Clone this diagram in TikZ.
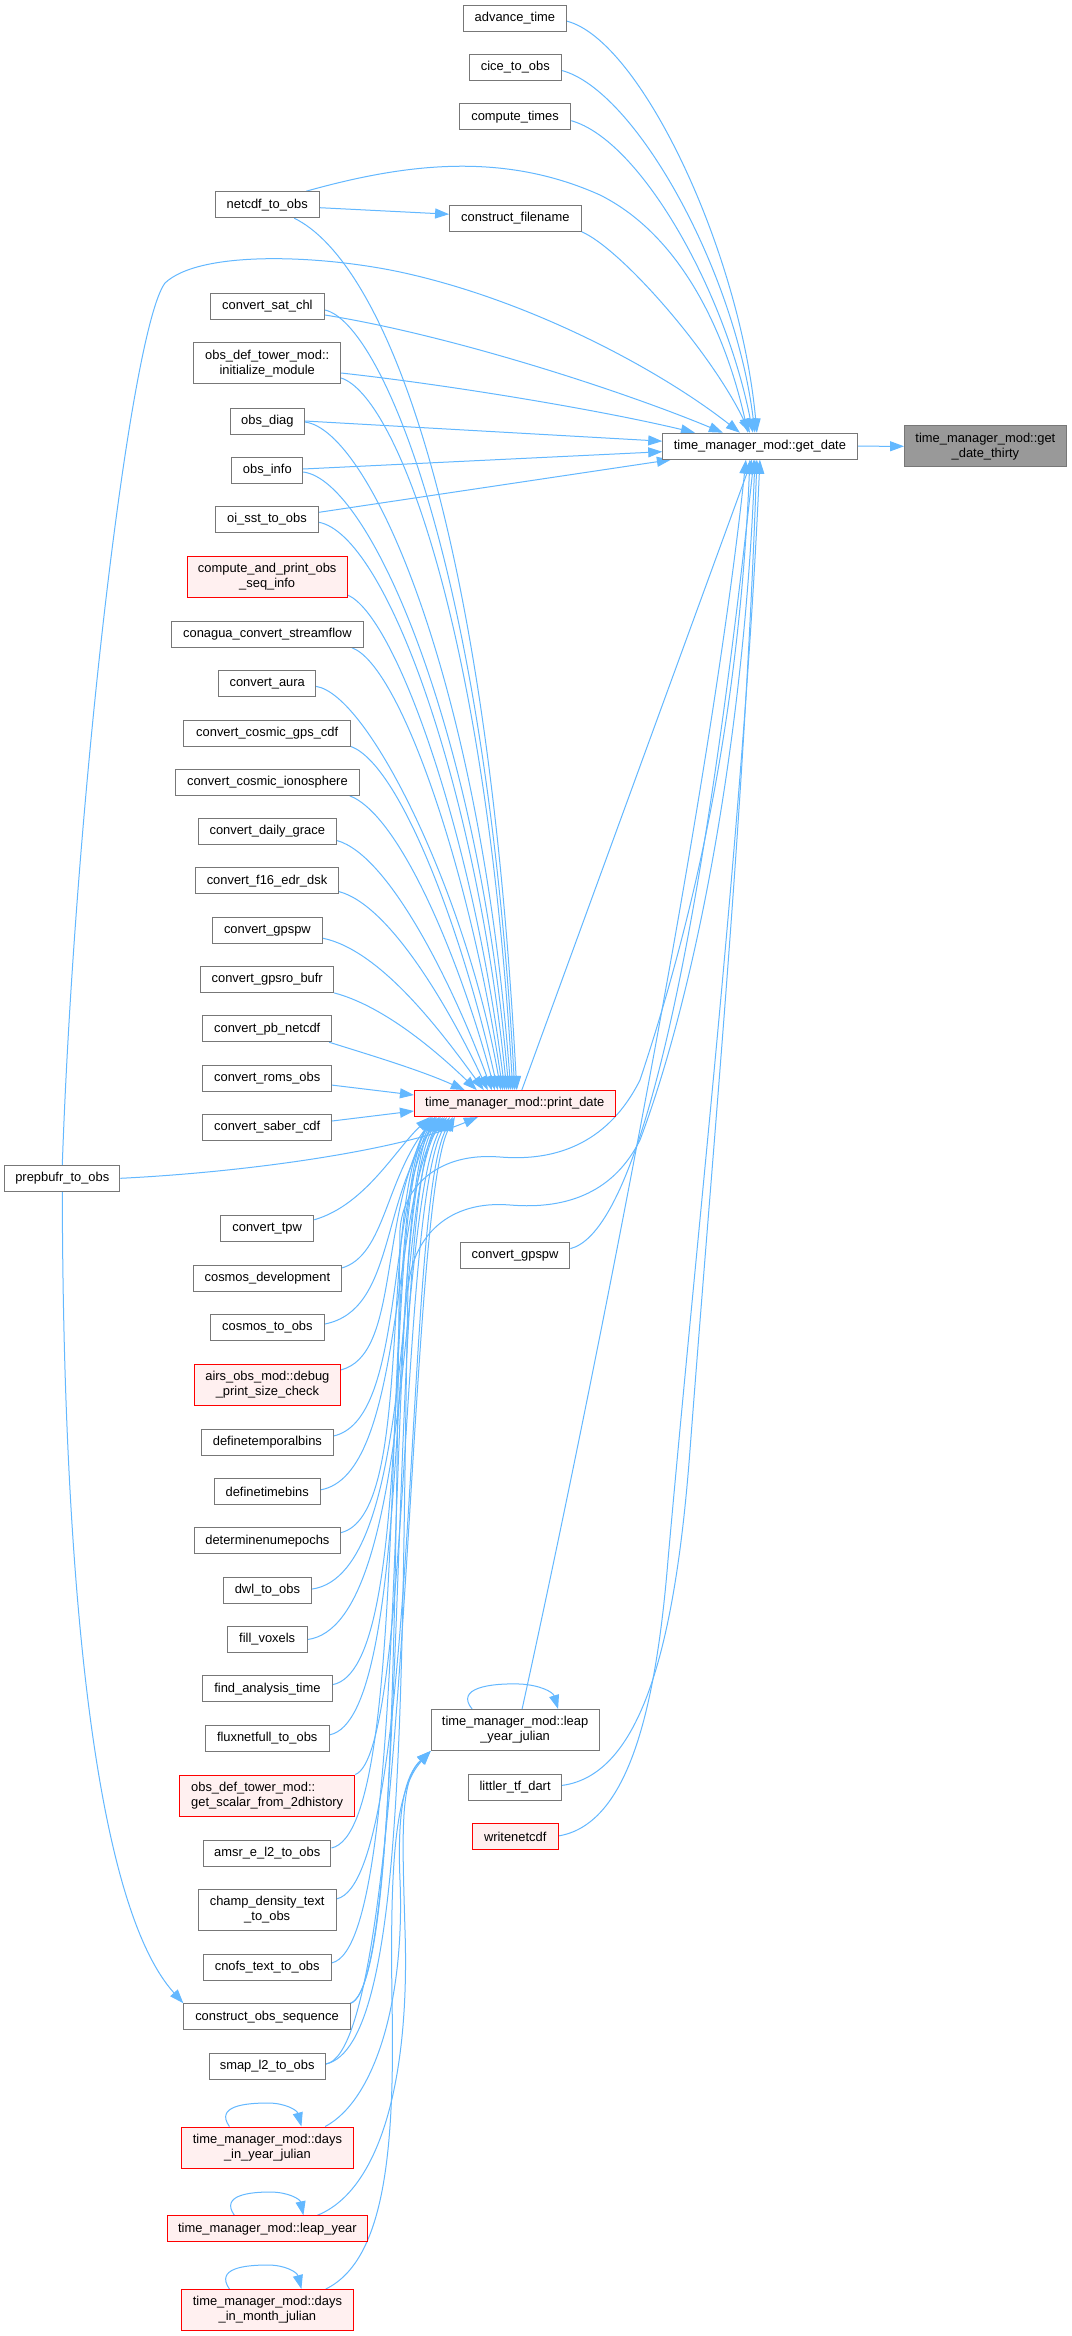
\documentclass[tikz,border=0pt]{standalone}
\usepackage{fontspec}
\setmainfont{Liberation Sans}
\usetikzlibrary{arrows.meta}
\definecolor{edgeblue}{HTML}{63B8FF}
\definecolor{nodegray}{HTML}{777777}
\definecolor{redfill}{HTML}{FFF0F0}
\definecolor{focusfill}{HTML}{999999}
\newcommand\nodefontcmd{\fontsize{12.9}{15}\selectfont}
\pgfdeclarelayer{bg}
\pgfsetlayers{bg,main}
\tikzset{
  nb/.style={draw=nodegray, fill=white, line width=1pt, inner sep=0pt, font=\nodefontcmd, text=black, align=center, minimum height=26pt},
  nr/.style={nb, draw=red, fill=redfill},
  nfoc/.style={nb, draw=nodegray, fill=focusfill},
  edg/.style={draw=edgeblue, line width=1pt, -{Triangle[length=14pt,width=10pt]}}
}
\begin{document}
\begin{tikzpicture}[x=1pt,y=-1pt]
% ---------- nodes ----------
\node[nfoc, minimum width=161.7pt, minimum height=41.3pt] (thirty) at (985.4,446.3) {time\_manager\_mod::get\\\_date\_thirty};
\node[nb, minimum width=194.3pt] (gd) at (759.9,446.2) {time\_manager\_mod::get\_date};
\node[nb, minimum width=103.2pt] (adv) at (514.9,18.2) {advance\_time};
\node[nb, minimum width=92pt] (cice) at (515.3,67.5) {cice\_to\_obs};
\node[nb, minimum width=111.2pt] (ctimes) at (515.1,116.7) {compute\_times};
\node[nb, minimum width=131.4pt] (cfile) at (515.3,218.2) {construct\_filename};
\node[nb, minimum width=104pt] (netcdf) at (267.2,204.7) {netcdf\_to\_obs};
\node[nb, minimum width=115pt] (prep) at (62.3,1178.3) {prepbufr\_to\_obs};
\node[nb, minimum width=114pt] (satchl) at (267.4,306) {convert\_sat\_chl};
\node[nb, minimum width=146.7pt, minimum height=41pt] (initmod) at (267.2,363.4) {obs\_def\_tower\_mod::\\initialize\_module};
\node[nb, minimum width=74pt] (obsdiag) at (267.4,421) {obs\_diag};
\node[nb, minimum width=70.7pt] (obsinfo) at (267.3,470) {obs\_info};
\node[nb, minimum width=103pt] (oisst) at (267,519.3) {oi\_sst\_to\_obs};
\node[nr, minimum width=159.8pt, minimum height=41pt] (cpo) at (267.2,577) {compute\_and\_print\_obs\\\_seq\_info};
\node[nb, minimum width=191.8pt] (conagua) at (267.4,634.2) {conagua\_convert\_streamflow};
\node[nb, minimum width=97pt] (aura) at (267.2,683.4) {convert\_aura};
\node[nb, minimum width=166.7pt] (cgps) at (267.2,733) {convert\_cosmic\_gps\_cdf};
\node[nb, minimum width=183.6pt] (ciono) at (267.4,782.3) {convert\_cosmic\_ionosphere};
\node[nb, minimum width=138pt] (grace) at (267.3,831.5) {convert\_daily\_grace};
\node[nb, minimum width=143pt] (f16) at (267,880.6) {convert\_f16\_edr\_dsk};
\node[nb, minimum width=109.8pt] (gpspw) at (267.4,930.2) {convert\_gpspw};
\node[nb, minimum width=133pt] (gpsro) at (267.2,979.4) {convert\_gpsro\_bufr};
\node[nb, minimum width=128.8pt] (pbnc) at (267.2,1028.7) {convert\_pb\_netcdf};
\node[nb, minimum width=128.8pt] (roms) at (267.2,1078.1) {convert\_roms\_obs};
\node[nb, minimum width=128.8pt] (saber) at (267.2,1127.5) {convert\_saber\_cdf};
\node[nr, minimum width=200.7pt] (pd) at (514.8,1103.6) {time\_manager\_mod::print\_date};
\node[nb, minimum width=93pt] (tpw) at (267.2,1228.8) {convert\_tpw};
\node[nb, minimum width=148.4pt] (cdev) at (267.4,1278.2) {cosmos\_development};
\node[nb, minimum width=114pt] (cto) at (267.4,1327.4) {cosmos\_to\_obs};
\node[nr, minimum width=145.6pt, minimum height=41pt] (airs) at (267.4,1384.8) {airs\_obs\_mod::debug\\\_print\_size\_check};
\node[nb, minimum width=131.2pt] (dtb) at (267.4,1442.2) {definetemporalbins};
\node[nb, minimum width=106pt] (dtime) at (267.2,1491.4) {definetimebins};
\node[nb, minimum width=145.6pt] (dne) at (267.4,1540.9) {determinenumepochs};
\node[nb, minimum width=87.8pt] (dwl) at (267.4,1590.1) {dwl\_to\_obs};
\node[nb, minimum width=80pt] (voxels) at (267.2,1639.5) {fill\_voxels};
\node[nb, minimum width=129.8pt] (fat) at (267.4,1688.8) {find\_analysis\_time};
\node[nb, minimum width=124pt] (flux) at (267.2,1738.2) {fluxnetfull\_to\_obs};
\node[nr, minimum width=175pt, minimum height=41pt, align=left] (gsc) at (267.2,1795.5) {obs\_def\_tower\_mod::\\get\_scalar\_from\_2dhistory};
\node[nb, minimum width=127.5pt] (amsr) at (267.2,1853) {amsr\_e\_l2\_to\_obs};
\node[nb, minimum width=138.4pt, minimum height=41pt] (champ) at (267.2,1910) {champ\_density\_text\\\_to\_obs};
\node[nb, minimum width=128pt] (cnofs) at (267.2,1967.5) {cnofs\_text\_to\_obs};
\node[nb, minimum width=166.3pt] (cobs) at (267,2016.7) {construct\_obs\_sequence};
\node[nb, minimum width=116.4pt] (smap) at (267.2,2066.3) {smap\_l2\_to\_obs};
\node[nr, minimum width=171.8pt, minimum height=41pt] (diyj) at (267.4,2147.5) {time\_manager\_mod::days\\\_in\_year\_julian};
\node[nr, minimum width=200pt] (ly) at (267.4,2228.8) {time\_manager\_mod::leap\_year};
\node[nr, minimum width=171.8pt, minimum height=41pt] (dimj) at (267.4,2310) {time\_manager\_mod::days\\\_in\_month\_julian};
\node[nb, minimum width=109.6pt] (gpspwb) at (515.1,1255.6) {convert\_gpspw};
\node[nb, minimum width=167.8pt, minimum height=41pt] (lyj) at (515.1,1730) {time\_manager\_mod::leap\\\_year\_julian};
\node[nb, minimum width=93pt] (littler) at (515.1,1787.4) {littler\_tf\_dart};
\node[nr, minimum width=85.7pt] (wnc) at (515.2,1836.9) {writenetcdf};
% ---------- edges ----------
\begin{pgfonlayer}{bg}
\path[fill=white, use as bounding box] (0,0) rectangle (1071,2336);
\draw[edg] (gd.east) -- (thirty.west);
% into get_date (top)
\draw[edg] ([yshift=-3pt]adv.east) .. controls (640,40) and (740,250) .. ([xshift=-3pt]gd.north);
\draw[edg] ([yshift=-3pt]cice.east) .. controls (635,90) and (735,270) .. ([xshift=-5pt]gd.north);
\draw[edg] ([yshift=-4pt]ctimes.east) .. controls (640,140) and (725,290) .. ([xshift=-7pt]gd.north);
\draw[edg] ([xshift=39pt]netcdf.north) .. controls (400,165) and (500,150) .. (600,195) .. controls (680,235) and (725,330) .. ([xshift=-12pt]gd.north);
\draw[edg] (cfile.south east) .. controls (620,248) and (710,350) .. ([xshift=-10pt]gd.north);
\draw[edg] (prep.north) .. controls (75,800) and (130,330) .. (165,283) .. controls (200,250) and (320,255) .. (400,272) .. controls (530,300) and (660,370) .. ([xshift=-20pt]gd.north);
\draw[edg] ([yshift=-9pt]satchl.east) .. controls (450,335) and (620,390) .. ([xshift=-37pt]gd.north);
\draw[edg] ([yshift=-9.6pt]initmod.east) .. controls (450,385) and (600,410) .. ([xshift=-65pt]gd.north);
\draw[edg] (obsdiag.east) -- ([yshift=5pt]gd.west);
\draw[edg] ([yshift=1pt]obsinfo.east) -- ([yshift=-5.5pt]gd.west);
\draw[edg] ([yshift=7pt]oisst.east) -- ([xshift=-89pt]gd.south);
% into get_date (bottom)
\draw[edg] ([xshift=7pt]pd.north) -- ([xshift=-8pt]gd.south);
\draw[edg] ([xshift=7pt]lyj.north) .. controls (590,1400) and (710,800) .. ([xshift=-14pt]gd.south);
\draw[edg] ([yshift=7pt]gpspwb.east) .. controls (625,1235) and (690,1050) .. ([xshift=-6pt]gd.south);
\draw[edg] ([yshift=2pt]littler.east) .. controls (640,1775) and (675,1650) .. (690,1450) .. controls (715,1120) and (745,800) .. ([xshift=-3pt]gd.south);
\draw[edg] ([yshift=1pt]wnc.east) .. controls (625,1825) and (655,1720) .. (668,1560) .. controls (700,1200) and (745,800) .. (gd.south);
\draw[edg] (cobs.north east) .. controls (395,1985) and (395,1600) .. (400,1230) .. controls (403,1185) and (440,1152) .. (500,1157) .. controls (560,1162) and (610,1140) .. (640,1080) .. controls (700,900) and (740,700) .. ([xshift=-10pt]gd.south);
\draw[edg] ([yshift=2.3pt]smap.east) .. controls (410,2045) and (400,1650) .. (408,1290) .. controls (412,1235) and (450,1200) .. (510,1205) .. controls (570,1210) and (615,1190) .. (640,1140) .. controls (700,980) and (745,720) .. ([xshift=-5pt]gd.south);
% netcdf -> construct_filename
\draw[edg] ([yshift=-3pt]netcdf.east) -- ([yshift=4pt]cfile.west);
% into print_date (top)
\draw[edg] ([xshift=27pt]netcdf.south) .. controls (380,260) and (485,500) .. ([xshift=2pt]pd.north);
\draw[edg] ([yshift=-4pt]satchl.east) .. controls (380,322) and (485,560) .. (pd.north);
\draw[edg] ([yshift=-14.6pt]initmod.east) .. controls (395,395) and (485,620) .. ([xshift=-2pt]pd.north);
\draw[edg] ([yshift=-1pt]obsdiag.east) .. controls (370,430) and (480,680) .. ([xshift=-4pt]pd.north);
\draw[edg] ([yshift=-2pt]obsinfo.east) .. controls (370,480) and (478,730) .. ([xshift=-6pt]pd.north);
\draw[edg] ([yshift=-3pt]oisst.east) .. controls (385,535) and (475,780) .. ([xshift=-8pt]pd.north);
\draw[edg] ([yshift=3pt]cpo.south east) .. controls (395,615) and (472,830) .. ([xshift=-10pt]pd.north);
\draw[edg] ([xshift=-12pt]conagua.south east) .. controls (400,665) and (470,870) .. ([xshift=-12pt]pd.north);
\draw[edg] ([yshift=-3pt]aura.east) .. controls (370,695) and (468,900) .. ([xshift=-14pt]pd.north);
\draw[edg] (cgps.south east) .. controls (400,765) and (462,930) .. ([xshift=-17pt]pd.north);
\draw[edg] ([xshift=-10pt]ciono.south east) .. controls (400,815) and (460,960) .. ([xshift=-20pt]pd.north);
\draw[edg] ([yshift=-9pt]grace.east) .. controls (390,855) and (455,990) .. ([xshift=-23pt]pd.north);
\draw[edg] ([yshift=-11pt]f16.east) .. controls (390,905) and (450,1010) .. ([xshift=-27pt]pd.north);
\draw[edg] ([yshift=-8pt]gpspw.east) .. controls (380,950) and (440,1030) .. ([xshift=-31pt]pd.north);
\draw[edg] (gpsro.south east) .. controls (380,1005) and (430,1045) .. ([xshift=-38pt]pd.north);
\draw[edg] ([xshift=-3pt]pbnc.south east) .. controls (370,1055) and (420,1070) .. ([xshift=-50pt]pd.north);
\draw[edg] ([yshift=-7pt]roms.east) -- ([yshift=8.6pt]pd.west);
\draw[edg] ([yshift=6.5pt]saber.east) -- ([yshift=-7.4pt]pd.west);
% into print_date (bottom)
\draw[edg] (prep.east) .. controls (250,1172) and (400,1150) .. ([xshift=-37pt]pd.south);
\draw[edg] ([yshift=9pt]tpw.east) .. controls (365,1205) and (395,1150) .. ([xshift=-85pt]pd.south);
\draw[edg] ([yshift=10.3pt]cdev.east) .. controls (385,1255) and (385,1180) .. ([xshift=-80pt]pd.south);
\draw[edg] ([yshift=3.4pt]cto.east) .. controls (395,1310) and (380,1200) .. ([xshift=-75pt]pd.south);
\draw[edg] ([yshift=14.8pt]airs.east) .. controls (400,1355) and (378,1220) .. ([xshift=-82pt]pd.south);
\draw[edg] ([yshift=6.2pt]dtb.east) .. controls (405,1420) and (385,1215) .. ([xshift=-78pt]pd.south);
\draw[edg] ([yshift=1.6pt]dtime.east) .. controls (405,1475) and (390,1210) .. ([xshift=-72pt]pd.south);
\draw[edg] ([yshift=8.2pt]dne.east) .. controls (415,1515) and (378,1225) .. ([xshift=-84pt]pd.south);
\draw[edg] ([yshift=1pt]dwl.east) .. controls (420,1574) and (392,1200) .. ([xshift=-70pt]pd.south);
\draw[edg] (voxels.east) .. controls (415,1625) and (398,1205) .. ([xshift=-68pt]pd.south);
\draw[edg] ([yshift=4.2pt]fat.east) .. controls (418,1668) and (380,1215) .. ([xshift=-80pt]pd.south);
\draw[edg] ([yshift=3.4pt]flux.east) .. controls (415,1718) and (386,1215) .. ([xshift=-76pt]pd.south);
\draw[edg] (gsc.north east) .. controls (410,1755) and (400,1205) .. ([xshift=-65pt]pd.south);
\draw[edg] ([yshift=5pt]amsr.east) .. controls (415,1830) and (376,1225) .. ([xshift=-83pt]pd.south);
\draw[edg] ([yshift=11.2pt]champ.east) .. controls (420,1880) and (404,1205) .. ([xshift=-62pt]pd.south);
\draw[edg] ([yshift=4.6pt]cnofs.east) .. controls (415,1945) and (382,1220) .. ([xshift=-79pt]pd.south);
\draw[edg] (cobs.north east) .. controls (410,1985) and (388,1215) .. ([xshift=-74pt]pd.south);
\draw[edg] ([yshift=2.3pt]smap.east) .. controls (410,2050) and (406,1210) .. ([xshift=-60pt]pd.south);
% into leap_year_julian
\draw[edg] ([xshift=-28.6pt]diyj.north east) .. controls (375,2100) and (405,2000) .. (400,1880) .. controls (397,1810) and (405,1775) .. (lyj.south west);
\draw[edg] ([xshift=-50.6pt]ly.north east) .. controls (380,2190) and (410,2080) .. (405,1930) .. controls (402,1830) and (400,1780) .. (lyj.south west);
\draw[edg] ([xshift=-28pt]dimj.north east) .. controls (385,2260) and (395,2150) .. (392,2000) .. controls (390,1860) and (395,1790) .. (lyj.south west);
% prepbufr -> construct_obs_sequence
\draw[edg] (prep.south) .. controls (63,1550) and (90,1900) .. (cobs.north west);
% self loops
\draw[edg] ([xshift=-43pt]lyj.north) .. controls (455,1688) and (490,1683) .. (520,1684) .. controls (540,1685) and (553,1692) .. ([xshift=43pt]lyj.north);
\draw[edg] ([xshift=-38pt]diyj.north) .. controls (215,2106) and (245,2103) .. (268,2103) .. controls (285,2103) and (297,2110) .. ([xshift=34pt]diyj.north);
\draw[edg] ([xshift=-33pt]ly.north) .. controls (220,2195) and (250,2192) .. (270,2192) .. controls (288,2192) and (300,2199) .. ([xshift=36pt]ly.north);
\draw[edg] ([xshift=-38pt]dimj.north) .. controls (215,2268) and (245,2265) .. (268,2265) .. controls (285,2265) and (297,2272) .. ([xshift=34pt]dimj.north);
\end{pgfonlayer}
\end{tikzpicture}
\end{document}
